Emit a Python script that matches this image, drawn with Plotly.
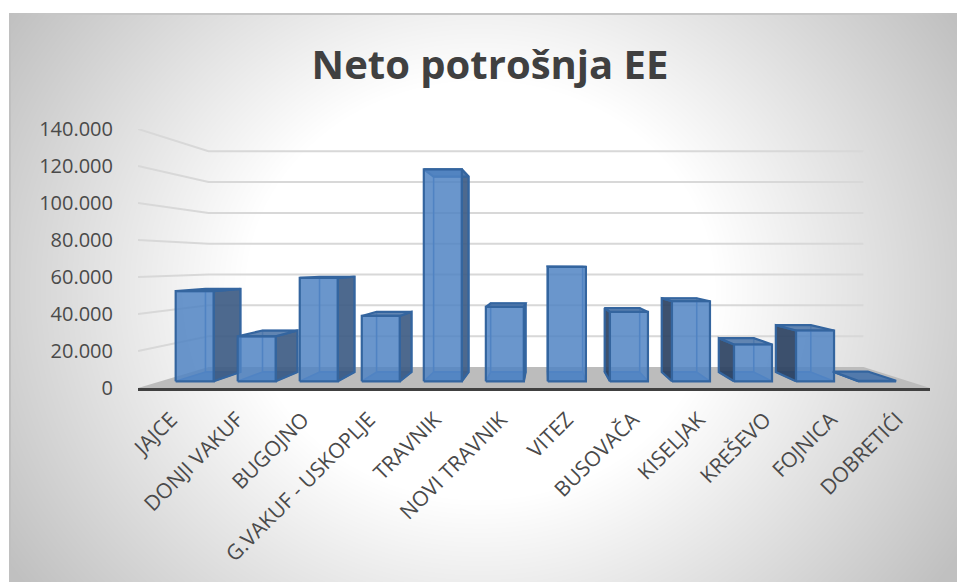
import base64, struct, zlib
import numpy as np
import plotly.graph_objects as go

categories = ["JAJCE", "DONJI VAKUF", "BUGOJNO", "G.VAKUF - USKOPLJE", "TRAVNIK", "NOVI TRAVNIK",
              "VITEZ", "BUSOVAČA", "KISELJAK", "KREŠEVO", "FOJNICA", "DOBRETIĆI"]
values = [51500, 25700, 59000, 37300, 121000, 42500, 65300, 39600, 45700, 21000, 29000, 300]
y_ticks = [0, 20000, 40000, 60000, 80000, 100000, 120000, 140000]
y_labels = ["0", "20.000", "40.000", "60.000", "80.000", "100.000", "120.000", "140.000"]

W, H = 957, 582
L, R, T, B = 138, 930, 129, 388
D_FRONT, D_BACK = 0.32, 0.76
BAR_W = 0.61
BAR_STEP, BAR_OFFSET = 0.995, 0.02

def proj(c, v, d):
    """Perspective of the 3D box: category position, value, depth -> axis coordinates."""
    s = 1 - 0.173 * d
    return 5.5 + 0.03 * d + (c - 5.5) * s, v * (1 - 0.167 * d) + 11350 * d

def poly(pts):
    xs, ys = zip(*pts)
    return list(xs) + [xs[0]], list(ys) + [ys[0]]

def png_background():
    w, h = W - 9, H - 13
    xx, yy = np.meshgrid(np.arange(w) + 9, np.arange(h) + 13)
    t = np.sqrt(((xx - 480) / 560) ** 2 + ((yy - 290) / 500) ** 2)
    g = 255 - 63 * np.clip((t - 0.42) / 0.59, 0, 1)
    g[:, :2] = np.minimum(g[:, :2], 192)
    g[:2, :] = np.minimum(g[:2, :], 198)
    g = g.astype(np.uint8)
    raw = b"".join(b"\x00" + g[r].tobytes() for r in range(h))
    def chunk(k, d):
        return struct.pack(">I", len(d)) + k + d + struct.pack(">I", zlib.crc32(k + d) & 0xffffffff)
    png = b"\x89PNG\r\n\x1a\n" + chunk(b"IHDR", struct.pack(">IIBBBBB", w, h, 8, 0, 0, 0, 0)) \
        + chunk(b"IDAT", zlib.compress(raw, 9)) + chunk(b"IEND", b"")
    return "data:image/png;base64," + base64.b64encode(png).decode()

fig = go.Figure()

def add_face(pts, fill, line="#34659f", width=2.2):
    x, y = poly(pts)
    fig.add_trace(go.Scatter(x=x, y=y, mode="lines", fill="toself", fillcolor=fill,
                             line=dict(color=line, width=width), hoverinfo="skip",
                             showlegend=False, cliponaxis=False))

# floor
add_face([proj(-0.5, 0, 0), proj(11.5, 0, 0), proj(11.5, 0, 1), proj(-0.5, 0, 1)], "#bcbcbc", "rgba(0,0,0,0)", 0)

# wall gridlines
for v in y_ticks[1:]:
    a, b, c = proj(-0.5, v, 0), proj(-0.5, v, 1), proj(11.5, v, 1)
    fig.add_trace(go.Scatter(x=[a[0], b[0], c[0]], y=[a[1], b[1], c[1]], mode="lines",
                             line=dict(color="#d8d8d8", width=2), hoverinfo="skip",
                             showlegend=False, cliponaxis=False))

# columns
for i, v in enumerate(values):
    centre = 5.5 + (i - 5.5) * BAR_STEP + BAR_OFFSET
    l, r = centre - BAR_W / 2, centre + BAR_W / 2
    fb_l, fb_r = proj(l, 0, D_FRONT), proj(r, 0, D_FRONT)
    ft_l, ft_r = proj(l, v, D_FRONT), proj(r, v, D_FRONT)
    bb_l, bb_r = proj(l, 0, D_BACK), proj(r, 0, D_BACK)
    bt_l, bt_r = proj(l, v, D_BACK), proj(r, v, D_BACK)
    # inner back edges
    add_face([bb_l, bb_r, bt_r, bt_l], "rgba(80,132,195,0.0)", "#4f80c0", 1.6)
    add_face([fb_l, fb_r, bb_r, bb_l], "rgba(80,132,195,0.75)", "#4f80c0", 1.6)
    if i < 6:
        add_face([fb_r, bb_r, bt_r, ft_r], "rgba(62,92,132,0.92)")
    if i > 5:
        add_face([fb_l, bb_l, bt_l, ft_l], "rgba(44,66,98,0.92)")
    add_face([ft_l, ft_r, bt_r, bt_l], "rgba(80,120,170,0.9)")
    add_face([fb_l, fb_r, ft_r, ft_l], "rgba(80,132,195,0.85)")

fig.update_layout(
    width=W, height=H,
    margin=dict(l=L, r=W - R, t=T, b=H - B, pad=0),
    paper_bgcolor="white", plot_bgcolor="rgba(0,0,0,0)",
    showlegend=False,
    font=dict(family="Open Sans", color="#4a4a4a"),
    title=dict(text="<b>Neto potrošnja EE</b>", x=490 / W, xanchor="center", y=1 - 65 / H, yanchor="middle",
               font=dict(family="Open Sans", size=40, color="#404040")),
    xaxis=dict(range=[-0.5, 11.5], tickmode="array", tickvals=list(range(12)), ticktext=categories,
               tickangle=-45, tickfont=dict(size=21), showgrid=False, zeroline=False,
               showline=True, linecolor="#404040", linewidth=3,
               ticks="outside", ticklen=8, tickcolor="rgba(0,0,0,0)"),
    yaxis=dict(range=[0, 140000], tickmode="array", tickvals=y_ticks, ticktext=y_labels,
               tickfont=dict(size=20), showgrid=False, zeroline=False, showline=False,
               ticks="outside", ticklen=20, tickcolor="rgba(0,0,0,0)"),
    images=[dict(source=png_background(), xref="paper", yref="paper",
                 x=(9 - L) / (R - L), y=(B - 13) / (B - T),
                 sizex=(W - 9) / (R - L), sizey=(H - 13) / (B - T),
                 xanchor="left", yanchor="top", sizing="stretch", layer="below")],
)

fig.write_html("out.html", config={"displayModeBar": False},
               post_script="document.body.style.margin='0';document.body.style.overflow='hidden';")
